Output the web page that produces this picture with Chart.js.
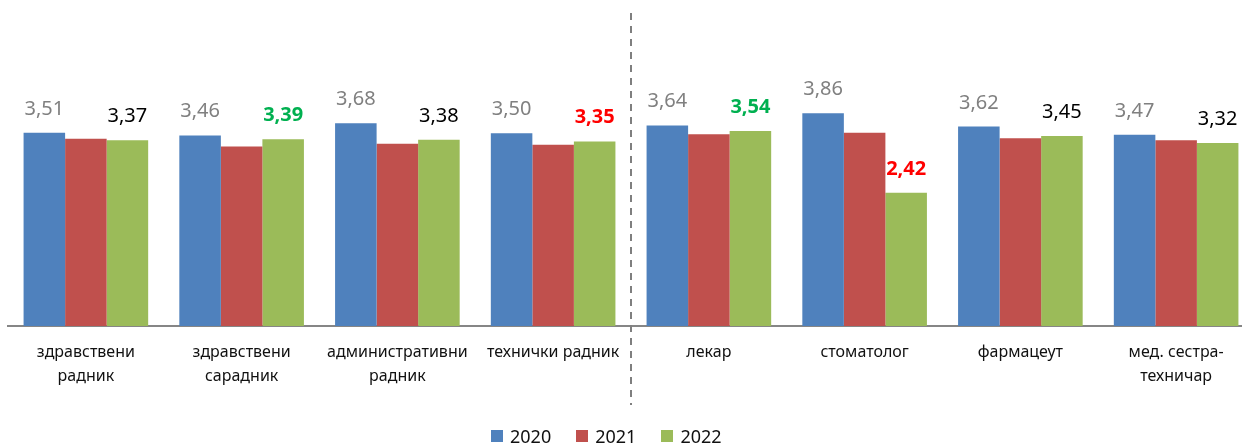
<!DOCTYPE html>
<html>
<head>
<meta charset="utf-8">
<script src="https://cdn.jsdelivr.net/npm/chart.js@4.4.1/dist/chart.umd.min.js"></script>
<style>
    body { margin: 0; width: 1242px; height: 443px; overflow: hidden; position: relative; background: #fff; font-family: 'Noto Sans', sans-serif; }
    #wrap { position: absolute; left: 0; top: 0; width: 1262px; height: 443px; }
    #legend { position: absolute; left: 491px; top: 424px; height: 24px; display: flex; align-items: center; font-size: 18px; color: #111; }
    .item { display: flex; align-items: center; margin-right: 25px; }
    .box { width: 12px; height: 12px; margin-right: 7px; }
</style>
</head>
<body>
<div id="wrap"><canvas id="chart"></canvas></div>
<div id="legend"></div>
<script>
// categorije (vise redova = niz)
const categories = [
    ['здравствени', 'радник'],
    ['здравствени', 'сарадник'],
    ['административни', 'радник'],
    'технички радник',
    'лекар',
    'стоматолог',
    'фармацеут',
    ['мед. сестра-', 'техничар']
];
const years = ['2020', '2021', '2022'];
const values2020 = [3.51, 3.46, 3.68, 3.50, 3.64, 3.86, 3.62, 3.47];
const values2021 = [3.40, 3.26, 3.31, 3.29, 3.48, 3.51, 3.41, 3.37];
const values2022 = [3.37, 3.39, 3.38, 3.35, 3.54, 2.42, 3.45, 3.32];
// oznaka za 2022: 'up' zeleno, 'down' crveno, '' obicno
const mark2022 = ['', 'up', '', 'down', 'up', 'down', '', ''];

const colors = ['#4F81BD', '#C0504D', '#9BBB59'];
const markStyle = {
    '':     { color: '#000000', weight: 'normal' },
    'up':   { color: '#00B050', weight: 'bold' },
    'down': { color: '#FF0000', weight: 'bold' }
};

const fmt = v => v.toFixed(2).replace('.', ',');

// legenda u HTML-u
const legend = document.getElementById('legend');
years.forEach((y, i) => {
    const el = document.createElement('div');
    el.className = 'item';
    el.innerHTML = `<div class="box" style="background:${colors[i]}"></div><span>${y}</span>`;
    legend.appendChild(el);
});

// vrednosti iznad stubova + isprekidana linija
const labelsPlugin = {
    id: 'labelsPlugin',
    afterDatasetsDraw(chart) {
        const ctx = chart.ctx;
        ctx.save();
        ctx.textAlign = 'center';
        ctx.textBaseline = 'alphabetic';

        chart.getDatasetMeta(0).data.forEach((bar, i) => {
            ctx.font = 'normal 20px "Noto Sans"';
            ctx.fillStyle = '#808080';
            ctx.fillText(fmt(values2020[i]), bar.x, bar.y - 18);
        });
        chart.getDatasetMeta(2).data.forEach((bar, i) => {
            const st = markStyle[mark2022[i]];
            ctx.font = st.weight + ' 20px "Noto Sans"';
            ctx.fillStyle = st.color;
            ctx.fillText(fmt(values2022[i]), bar.x, bar.y - 18);
        });

        // razdelnik izmedju 4. i 5. grupe
        const xs = chart.scales.x;
        const xDiv = (xs.getPixelForTick(3) + xs.getPixelForTick(4)) / 2;
        ctx.strokeStyle = '#7F7F7F';
        ctx.lineWidth = 2;
        ctx.setLineDash([7, 6]);
        ctx.beginPath();
        ctx.moveTo(xDiv, chart.chartArea.top + 1);
        ctx.lineTo(xDiv, chart.chartArea.bottom + 79);
        ctx.stroke();
        ctx.restore();
    }
};

new Chart(document.getElementById('chart'), {
    type: 'bar',
    data: {
        labels: categories,
        datasets: [
            { label: years[0], data: values2020, backgroundColor: colors[0] },
            { label: years[1], data: values2021, backgroundColor: colors[1] },
            { label: years[2], data: values2022, backgroundColor: colors[2] }
        ]
    },
    options: {
        responsive: true,
        maintainAspectRatio: false,
        animation: false,
        datasets: { bar: { categoryPercentage: 0.8, barPercentage: 1.0 } },
        layout: { padding: { left: 8, right: 8, top: 12, bottom: 41 } },
        scales: {
            y: { display: false, min: 0, max: 5.7 },
            x: {
                grid: { display: false, drawTicks: false },
                border: { display: true, color: '#868686', width: 2 },
                ticks: {
                    color: '#111',
                    padding: 14,
                    maxRotation: 0,
                    autoSkip: false,
                    font: { family: 'Noto Sans', size: 16, lineHeight: 1.5 }
                }
            }
        },
        plugins: {
            legend: { display: false },
            tooltip: { enabled: false }
        }
    },
    plugins: [labelsPlugin]
});
</script>
</body>
</html>
